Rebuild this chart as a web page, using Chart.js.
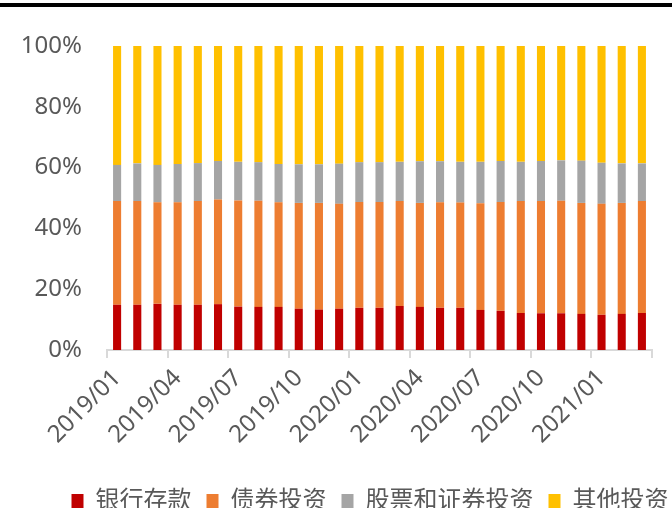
<!DOCTYPE html>
<html>
<head>
  <meta charset="utf-8">
  <title>资产配置结构</title>
  <script src="https://cdn.jsdelivr.net/npm/chart.js@4.4.0/dist/chart.umd.min.js"></script>
  <style>
    html, body { margin: 0; padding: 0; background: #ffffff; overflow: hidden; }
    #wrap { position: absolute; left: 0; top: 0; width: 672px; height: 508px; }
    #topline { position: absolute; left: 0; top: 3px; width: 672px; height: 4px; background: #000000; }
  </style>
</head>
<body>
  <div id="wrap"><canvas id="mix"></canvas></div>
  <div id="topline"></div>
  <script>
    var months = ['2019/01','2019/02','2019/03','2019/04','2019/05','2019/06','2019/07','2019/08','2019/09',
                  '2019/10','2019/11','2019/12','2020/01','2020/02','2020/03','2020/04','2020/05','2020/06',
                  '2020/07','2020/08','2020/09','2020/10','2020/11','2020/12','2021/01','2021/02','2021/03'];
    var seriesNames = ['银行存款', '债券投资', '股票和证券投资', '其他投资'];
    // shares in %, per month
    var bankDeposit = [14.9,14.9,15.2,14.9,14.9,15.1,14.3,14.2,14.2,13.6,13.3,13.6,13.9,13.9,
                       14.5,14.2,13.9,13.9,13.2,12.9,12.2,12.1,12.1,11.9,11.6,11.9,12.2];
    var bonds       = [34.1,34.1,33.4,33.7,34.1,34.4,34.9,34.9,34.4,34.8,35.1,34.5,34.8,34.8,
                       34.5,34.2,34.7,34.6,35.1,35.8,36.8,36.9,37.0,36.5,36.5,36.5,36.8];
    var stocks      = [11.9,12.4,12.3,12.6,12.5,12.7,12.7,12.7,12.6,12.7,12.7,13.2,13.1,13.1,
                       12.9,13.7,13.5,13.4,13.6,13.5,12.9,13.2,13.3,13.9,13.5,13.0,12.4];
    var others      = [39.1,38.6,39.1,38.8,38.5,37.8,38.1,38.2,38.8,38.9,38.9,38.7,38.2,38.2,
                       38.1,37.9,37.9,38.1,38.1,37.8,38.1,37.8,37.6,37.7,38.4,38.6,38.6];
    var colors = ['#C00000', '#ED7D31', '#A5A5A5', '#FFC000'];

    var fontFamily = '"Noto Sans", "Noto Sans CJK SC", sans-serif';
    var textColor = '#595959';

    // move the legend right and down, under the plot
    var legendShift = {
      id: 'legendShift',
      afterLayout: function (chart) {
        var lg = chart.legend;
        lg.left += 44; lg.right += 44;
        lg.top += 19; lg.bottom += 19;
      }
    };

    var data = [bankDeposit, bonds, stocks, others];
    var datasets = seriesNames.map(function (name, i) {
      return {
        label: name,
        data: data[i],
        backgroundColor: colors[i],
        borderWidth: 0,
        barPercentage: 0.4,
        categoryPercentage: 1.0
      };
    });

    new Chart(document.getElementById('mix'), {
      type: 'bar',
      data: { labels: months, datasets: datasets },
      plugins: [legendShift],
      options: {
        responsive: true,
        maintainAspectRatio: false,
        animation: false,
        layout: { padding: { left: 0, right: 20, top: 46, bottom: 4 } },
        plugins: {
          tooltip: { enabled: false },
          legend: {
            position: 'bottom',
            labels: {
              boxWidth: 12,
              boxHeight: 14,
              padding: 15,
              color: textColor,
              font: { family: fontFamily, size: 24 }
            }
          }
        },
        scales: {
          x: {
            stacked: true,
            grid: {
              offset: true,
              drawOnChartArea: false,
              drawTicks: true,
              tickLength: 8,
              lineWidth: 2,
              color: function (ctx) {
                return (ctx.index === undefined || ctx.index % 3 === 0) ? '#D9D9D9' : 'rgba(0,0,0,0)';
              }
            },
            border: { display: true, color: '#D9D9D9', width: 2 },
            ticks: {
              autoSkip: false,
              maxRotation: 45,
              minRotation: 45,
              padding: 6,
              color: textColor,
              font: { family: fontFamily, size: 24 },
              callback: function (v, i) { return i % 3 === 0 ? months[i] : ''; }
            }
          },
          y: {
            stacked: true,
            min: 0,
            max: 100,
            afterFit: function (scale) { scale.width = 107; },
            grid: { display: false, drawTicks: false },
            border: { display: false },
            ticks: {
              stepSize: 20,
              padding: 25,
              color: textColor,
              font: { family: fontFamily, size: 24 },
              callback: function (v) { return v + '%'; }
            }
          }
        }
      }
    });
  </script>
</body>
</html>
